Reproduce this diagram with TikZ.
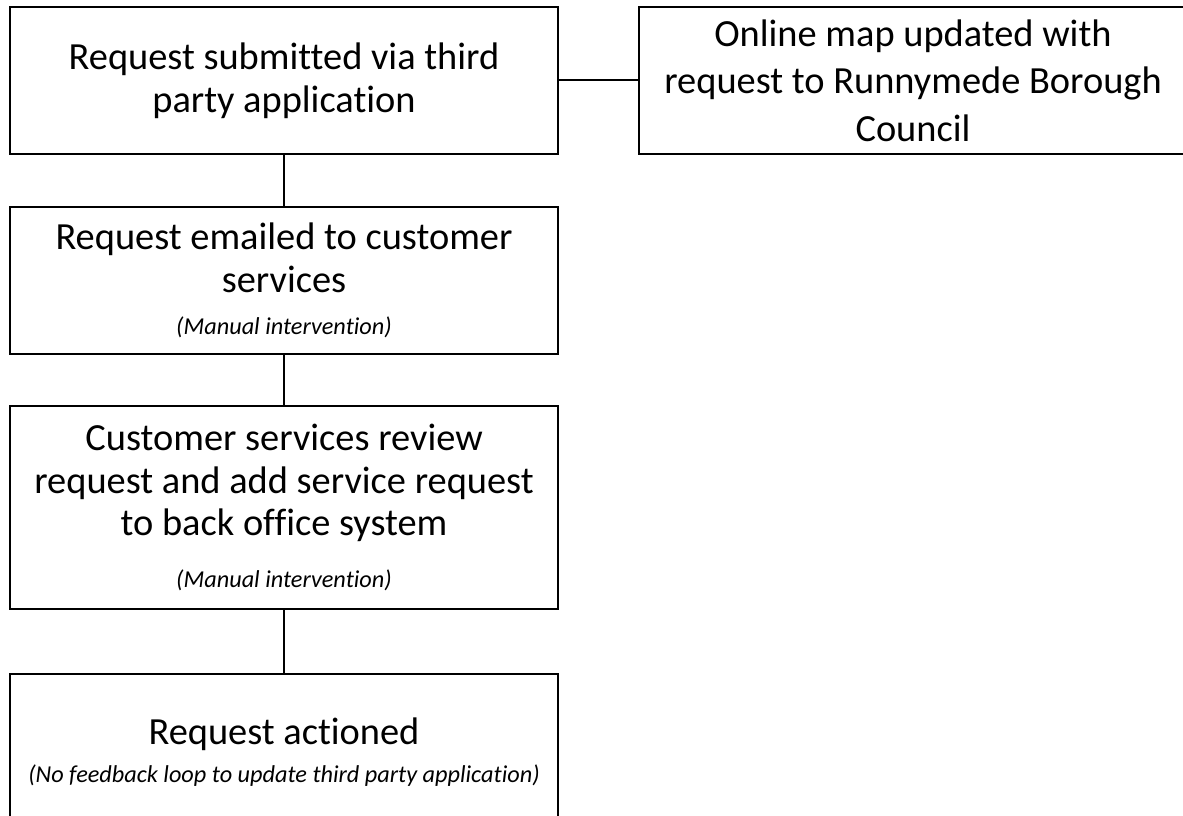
\documentclass[tikz,border=0pt]{standalone}
\usepackage{fontspec}
\setmainfont{Carlito}[Ligatures=NoCommon]

\tikzset{every picture/.style={line width=0.75pt}}
\tikzset{
  stepbox/.style={draw, line width=1.5pt, align=center, inner sep=0pt,
    minimum width=411pt, font=\fontsize{28.8}{32}\selectfont},
  link/.style={line width=1.5pt}
}
\newcommand{\notetxt}{\fontsize{18.2}{22}\selectfont\itshape}

\begin{document}
\begin{tikzpicture}[x=0.75pt,y=0.75pt,yscale=-1,xscale=1]
\useasboundingbox (0,0) rectangle (1183,816);

%Shape: Rectangle [submitted]
\node[stepbox, minimum height=110pt] (submitted) at (284,80.5) {Request submitted via third\\party application};
%Shape: Rectangle [online map]
\node[stepbox, minimum height=110pt, font=\fontsize{28.8}{35.5}\selectfont] (onlinemap) at (913,80.5) {Online map updated with\\request to Runnymede Borough\\Council};
%Shape: Rectangle [emailed]
\node[stepbox, minimum height=110.25pt] (emailed) at (284,280.5) {Request emailed to customer\\services\\{\notetxt (Manual intervention)}};
%Shape: Rectangle [review]
\node[stepbox, minimum height=152.25pt] (review) at (284,507.5) {Customer services review\\request and add service request\\to back office system\\[7pt]{\notetxt (Manual intervention)}};
%Shape: Rectangle [actioned]
\node[stepbox, minimum height=117pt] (actioned) at (284,752) {Request actioned\\[-3pt]{\notetxt (No feedback loop to update third party application)}};

%Straight Lines
\draw[link] (submitted) -- (onlinemap);
\draw[link] (submitted) -- (emailed);
\draw[link] (emailed) -- (review);
\draw[link] (review) -- (actioned);

\end{tikzpicture}
\end{document}
